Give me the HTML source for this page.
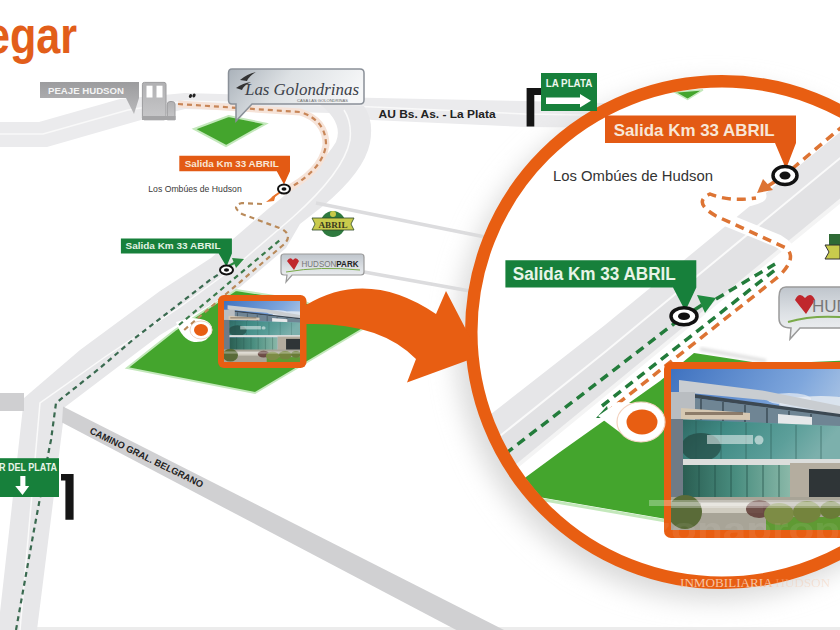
<!DOCTYPE html>
<html><head><meta charset="utf-8">
<style>
html,body{margin:0;padding:0;background:#fff;}
body{width:840px;height:630px;overflow:hidden;position:relative;}
svg{position:absolute;left:0;top:0;display:block;}
svg{font-family:"Liberation Sans",sans-serif;}
</style></head><body>
<svg width="840" height="630" viewBox="0 0 840 630">
<defs>
  <filter id="blur8" x="-20%" y="-20%" width="140%" height="140%"><feGaussianBlur stdDeviation="13"/></filter>
  <filter id="blur2" x="-20%" y="-20%" width="140%" height="140%"><feGaussianBlur stdDeviation="1.5"/></filter>
  <filter id="blur1" x="-10%" y="-10%" width="120%" height="120%"><feGaussianBlur stdDeviation="0.6"/></filter>
  <linearGradient id="sky" x1="0" y1="0" x2="1" y2="0.6">
    <stop offset="0" stop-color="#3f72c0"/><stop offset="0.6" stop-color="#7ea6dc"/><stop offset="1" stop-color="#c4d6ea"/>
  </linearGradient>
  <linearGradient id="glass" x1="0" y1="0" x2="1" y2="0.2">
    <stop offset="0" stop-color="#2b625c"/><stop offset="0.35" stop-color="#3f8a84"/><stop offset="0.75" stop-color="#5c9f9a"/><stop offset="1" stop-color="#7cb0ac"/>
  </linearGradient>
  <linearGradient id="glass2" x1="0" y1="0" x2="1" y2="0">
    <stop offset="0" stop-color="#2a5e52"/><stop offset="0.5" stop-color="#4a8e80"/><stop offset="1" stop-color="#8ab8a8"/>
  </linearGradient>
  <linearGradient id="signgray" x1="0" y1="0" x2="0" y2="1">
    <stop offset="0" stop-color="#bfc5cc"/><stop offset="0.5" stop-color="#dde1e5"/><stop offset="1" stop-color="#f3f4f5"/>
  </linearGradient>
  <linearGradient id="peaje" x1="0" y1="0" x2="0" y2="1">
    <stop offset="0" stop-color="#9c9c9e"/><stop offset="1" stop-color="#b9b9bb"/>
  </linearGradient>
  <clipPath id="ringclip"><circle cx="722" cy="332" r="245"/></clipPath>
  <clipPath id="bigphoto"><rect x="671" y="369" width="169" height="161"/></clipPath>
  <clipPath id="smallphoto"><rect x="224" y="301" width="76" height="61"/></clipPath>

  <g id="photo">
    <rect x="0" y="0" width="169" height="161" fill="url(#sky)"/>
    <ellipse cx="150" cy="36" rx="42" ry="9" fill="#e4eaf0" opacity="0.85"/>
    <ellipse cx="118" cy="30" rx="22" ry="6" fill="#e9eef4" opacity="0.7"/>
    <polygon points="8,11 94,22 169,37 169,46 94,31 8,23" fill="#c9cdd1"/>
    <polygon points="8,23 169,45 169,49 8,27" fill="#3c4852"/>
    <polygon points="8,27 169,48 169,58 8,50" fill="#6f8594"/>
    <g stroke="#2f3e48" stroke-width="1.2">
      <line x1="30" y1="30" x2="30" y2="51"/><line x1="52" y1="33" x2="52" y2="52"/><line x1="74" y1="36" x2="74" y2="53"/><line x1="96" y1="39" x2="96" y2="54"/><line x1="118" y1="42" x2="118" y2="55"/><line x1="140" y1="45" x2="140" y2="56"/>
    </g>
    <rect x="0" y="23" width="24" height="28" fill="#b9bdc1"/>
    <polygon points="10,39 79,44 79,51 10,50" fill="#d6c8b2"/>
    <rect x="14" y="43" width="58" height="3" fill="#5a4a3a" opacity="0.6"/>
    <polygon points="107,45 141,48 141,58 107,56" fill="#e6e8ea"/>
    <polygon points="0,50 169,57 169,91 0,91" fill="url(#glass)"/>
    <ellipse cx="30" cy="78" rx="20" ry="14" fill="#1f3f38" opacity="0.6"/>
    <g stroke="#285650" stroke-width="0.8" opacity="0.7">
      <line x1="25" y1="52" x2="25" y2="91"/><line x1="50" y1="53" x2="50" y2="91"/><line x1="75" y1="54" x2="75" y2="91"/><line x1="100" y1="55" x2="100" y2="91"/><line x1="125" y1="56" x2="125" y2="91"/><line x1="150" y1="57" x2="150" y2="91"/>
    </g>
    <rect x="36" y="66" width="46" height="9" fill="#eef4f4" opacity="0.55"/>
    <circle cx="88" cy="71" r="4.5" fill="#eef4f4" opacity="0.6"/>
    <rect x="11" y="90" width="158" height="6" fill="#dcdedc"/>
    <rect x="12" y="96" width="107" height="34" fill="url(#glass2)"/>
    <g stroke="#1f4a42" stroke-width="1" opacity="0.7">
      <line x1="28" y1="96" x2="28" y2="130"/><line x1="44" y1="96" x2="44" y2="130"/><line x1="60" y1="96" x2="60" y2="130"/><line x1="76" y1="96" x2="76" y2="130"/><line x1="92" y1="96" x2="92" y2="130"/><line x1="108" y1="96" x2="108" y2="130"/>
    </g>
    <rect x="119" y="94" width="50" height="38" fill="#b4ad9f"/>
    <rect x="138" y="100" width="31" height="32" fill="#2f3537"/>
    <rect x="0" y="50" width="12" height="82" fill="#6f7b86"/>
    <rect x="0" y="128" width="169" height="33" fill="#a8a497"/>
    <rect x="30" y="134" width="62" height="10" fill="#d0ccc0"/>
    <rect x="95" y="148" width="74" height="13" fill="#5f9a33"/>
    <ellipse cx="14" cy="143" rx="17" ry="17" fill="#5a6b38"/>
    <ellipse cx="88" cy="140" rx="13" ry="9" fill="#5f3a34" opacity="0.85"/>
    <ellipse cx="108" cy="145" rx="15" ry="11" fill="#7d8c45"/>
    <ellipse cx="136" cy="143" rx="14" ry="11" fill="#74843d"/>
    <ellipse cx="160" cy="141" rx="11" ry="9" fill="#6a7c37"/>
    <rect x="0" y="133" width="169" height="6" fill="#ffffff" opacity="0.3"/>
  </g>
</defs>

<!-- background -->
<rect x="0" y="0" width="840" height="630" fill="#ffffff"/>
<rect x="0" y="627" width="840" height="3" fill="#ececec"/>

<!-- ===== small map roads ===== -->
<!-- AU highway -->
<path d="M0,122 L39,122 L120,99 L185,93 L330,97 L525,101 L640,104 L640,128 L525,127 L372,120 L330,113 L185,109 L141,120 L47,147 L0,147 Z" fill="#ebebed"/>
<path d="M0,134 L43,134 L128,110 L185,101 L330,105 L525,114 L640,116" fill="none" stroke="#f9f9f9" stroke-width="1.5"/>
<!-- diagonal highway -->
<path d="M-2,630 L24,398 L80,350 L160,291 L211,258 L268,209 Q322,166 336,142 Q344,122 318,103 L364,106 Q374,120 370,143 Q364,172 323,206 L300,224 L286,248 L240,287 L160,335 L65,407 L37,630 Z" fill="#e7e7e9"/>
<path d="M20,630 L40,403 L105,357 L180,307 L236,266 L292,218 Q344,172 350,140 Q352,122 344,110" fill="none" stroke="#fafafa" stroke-width="1.5"/>
<!-- left horizontal & Camino Belgrano -->
<path d="M0,393 L24,393 L24,411 L0,411 Z" fill="#cfcfd1"/>
<path d="M63,406.5 L510,633 L462,633 L62,422.5 Z" fill="#d0d0d2"/>
<!-- minor roads -->
<line x1="316" y1="203" x2="490" y2="238" stroke="#dcdcde" stroke-width="3.5"/>
<line x1="364" y1="272" x2="470" y2="291" stroke="#dcdcde" stroke-width="3.5"/>

<!-- pale orange route band -->
<path d="M178,104 L300,112 Q326,120 326,145 Q322,172 282,192" fill="none" stroke="#f6e3d8" stroke-width="7" stroke-linejoin="round"/>

<!-- green lots -->
<polygon points="194,129 228.6,116 266,123.6 226,146" fill="#44a52d" stroke="#c3e8bb" stroke-width="2"/>
<polygon points="127,368 175,330 236,290 300,300 366,327 255,393" fill="#44a52d" stroke="#c3e8bb" stroke-width="2"/>
<!-- small marker white halo on road -->
<path d="M176,322 L190,318 Q214,318 212,332 Q208,343 194,342 Q182,340 176,322 Z" fill="#fff"/>

<!-- route dashes small -->
<path d="M178,104 L300,112 Q326,120 326,145 Q322,172 282,192" fill="none" stroke="#c88658" stroke-width="2.2" stroke-dasharray="5,4"/>
<path d="M283,190 L272,198" stroke="#e8732a" stroke-width="2"/>
<polygon points="266,202 276,194 274,201" fill="#e8732a"/>
<path d="M262,204 L242,203 Q230,206 242,214 L282,229 Q294,236 282,246 L183,331" fill="none" stroke="#b98a5a" stroke-width="2.2" stroke-dasharray="5,4"/>
<path d="M179,325 L280,240" fill="none" stroke="#3a7a4a" stroke-width="2.2" stroke-dasharray="5,4"/>
<path d="M16,630 L28.6,560 L34,530 L49,450 L51,440 L56,403 L100,368 L135,338 L210,280 L222,272" fill="none" stroke="#3a6a50" stroke-width="2.2" stroke-dasharray="5,4"/>
<path d="M225,268 L236,262" stroke="#2a8a40" stroke-width="2"/>
<polygon points="232,258 244,259 236,268" fill="#2a8a40"/>

<!-- ring shadow -->
<circle cx="713" cy="343" r="257" fill="#d9d9d9" filter="url(#blur8)"/>
<circle cx="722" cy="332" r="250.5" fill="#ffffff"/>

<!-- ===== ring interior ===== -->
<g clip-path="url(#ringclip)">
  <!-- highway -->
  <polygon points="400,485 605,325 850,124 850,191 400,560" fill="#e6e6e8"/>
  <polygon points="400,516 605,352 850,150 850,191 400,560" fill="#e2e2e4"/>
  <polyline points="400,516 605,352 850,150" fill="none" stroke="#fafafa" stroke-width="2"/>
  <line x1="400" y1="562" x2="850" y2="193" stroke="#f4f4f4" stroke-width="4"/>
  <!-- white halo where hook crosses -->
  <path d="M760,196 Q740,206 712,196 Q694,198 712,214 L778,241 Q800,254 780,266" fill="none" stroke="#ffffff" stroke-width="13" stroke-linecap="round" stroke-linejoin="round"/>
  <!-- big green -->
  <polygon points="470,518 560,452 660,381 694,353 765,364 860,360 860,532 666,519 527,495 505,470" fill="#44a52d"/>
  <polyline points="527,497 666,521" fill="none" stroke="#c3e8bb" stroke-width="3"/>
  <path d="M700,349 L766,361" fill="none" stroke="#e2e2e2" stroke-width="4" filter="url(#blur2)"/>
  <!-- dashed routes -->
  <path d="M470,481 L684,316" fill="none" stroke="#237c3b" stroke-width="3.5" stroke-dasharray="9,6"/>
  <path d="M688,314 L702,305" stroke="#237c3b" stroke-width="3.5"/>
  <polygon points="697,295 716,298 705,313" fill="#1f8a3e"/>
  <path d="M716,299 L775,264" fill="none" stroke="#237c3b" stroke-width="3.5" stroke-dasharray="9,6"/>
  <path d="M602,406 L775,270" fill="none" stroke="#237c3b" stroke-width="3.5" stroke-dasharray="9,6"/>
  <path d="M606,413 L778,277 Q798,258 786,248 L716,216 Q692,202 710,194 Q730,202 756,198" fill="none" stroke="#dd7434" stroke-width="3.5" stroke-dasharray="9,6"/>
  <polygon points="596,418 607,406 610,418" fill="#237c3b"/>
  <path d="M785,175 L768,186" stroke="#dd7434" stroke-width="3.5"/>
  <polygon points="757,193 763,179 773,190" fill="#dd7434"/>
  <path d="M792,169 L850,120" fill="none" stroke="#dd7434" stroke-width="3.5" stroke-dasharray="9,6"/>
  <!-- small green triangle near top -->
  <polygon points="674.5,92 703,89.8 687.6,99.3" fill="#44a52d" stroke="#c3e8bb" stroke-width="1.5"/>
</g>

<!-- ring -->
<circle cx="722" cy="332" r="250.75" fill="none" stroke="#e85e12" stroke-width="12.5"/>

<!-- orange arrow -->
<path d="M306,305 Q368,268 436,314 L446,291 L474,345 L474,358 L407,382.5 L416,359 Q380,322 306,324 Z" fill="#e85e12"/>

<!-- small photo -->
<rect x="218" y="295" width="88.5" height="73" rx="6" fill="#e85e12"/>
<g clip-path="url(#smallphoto)"><use href="#photo" transform="translate(224,301) scale(0.4497,0.3789)"/></g>

<!-- big photo -->
<rect x="664" y="362" width="190" height="176" rx="7" fill="#e85e12"/>
<g clip-path="url(#bigphoto)"><use href="#photo" transform="translate(671,369)"/></g>

<!-- small orange marker -->
<ellipse cx="201" cy="330" rx="11" ry="9" fill="#fff" stroke="#f1d6c6" stroke-width="1"/>
<ellipse cx="201" cy="330" rx="7" ry="6" fill="#e85e12"/>

<!-- big orange marker -->
<path d="M598,416 L618,402 L640,404 L650,440 L630,440 Z" fill="#fff"/>
<ellipse cx="641" cy="422" rx="24" ry="20" fill="#fff" stroke="#f3d3c0" stroke-width="1.2"/>
<ellipse cx="642" cy="422" rx="15.5" ry="12.5" fill="#e85e12"/>

<!-- ===== signs ===== -->
<!-- title -->
<text x="0" y="0" font-size="52" font-weight="bold" fill="#e25e1a" transform="translate(-14,52.5) scale(0.83,1)">egar</text>

<!-- Peaje Hudson -->
<polygon points="40,82 139,82 139,98 134,114 126,98 40,98" fill="url(#peaje)"/>
<text x="48" y="94" font-size="9.5" font-weight="bold" fill="#f4f4f4" textLength="76" lengthAdjust="spacingAndGlyphs">PEAJE HUDSON</text>
<!-- toll booth -->
<defs><linearGradient id="booth" x1="0" y1="0" x2="0" y2="1"><stop offset="0" stop-color="#b0b0b2"/><stop offset="1" stop-color="#c8c8ca"/></linearGradient></defs>
<rect x="142.4" y="82.4" width="23.6" height="37.4" rx="2" fill="url(#booth)" stroke="#9c9c9e" stroke-width="1"/>
<rect x="146.5" y="85.7" width="6" height="11.8" fill="#fff"/>
<rect x="156.5" y="85.7" width="6" height="11.8" fill="#fff"/>
<path d="M167.3,119.8 L167.3,104 Q167.3,101.4 171,101.4 Q175,101.4 175,104 L175,119.8 Z" fill="url(#booth)" stroke="#9c9c9e" stroke-width="1"/>
<rect x="142" y="116" width="33.5" height="4" fill="#a4a4a6"/>
<ellipse cx="190.5" cy="96" rx="1.5" ry="2" fill="#222" transform="rotate(30 190.5 96)"/>
<ellipse cx="194" cy="95.5" rx="1.5" ry="2" fill="#222" transform="rotate(30 194 95.5)"/>

<!-- Las Golondrinas -->
<defs><linearGradient id="golg" x1="0" y1="0" x2="1" y2="0.3"><stop offset="0" stop-color="#aab2ba"/><stop offset="0.45" stop-color="#dde1e4"/><stop offset="1" stop-color="#f6f7f8"/></linearGradient></defs><path d="M232,69 L360,69 Q364,69 364,73 L364,100 Q364,104 360,104 L252,104 L236,121 L236,104 L232,104 Q228.5,104 228.5,100 L228.5,73 Q228.5,69 232,69 Z" fill="url(#golg)" stroke="#8a9098" stroke-width="1.5"/>
<text x="245" y="95" font-family="Liberation Serif" font-style="italic" font-size="16" fill="#3c424a" textLength="114" lengthAdjust="spacingAndGlyphs">Las Golondrinas</text>
<text x="297" y="101.5" font-size="3.5" fill="#666" textLength="51" lengthAdjust="spacingAndGlyphs">CASA LAS GOLONDRINAS</text>
<path d="M240,80 q7,-6 16,-8 q-7,4 -9,9 Z M236,88 q7,-5 15,-6 q-7,3 -9,8 Z" fill="#333"/>

<!-- AU Bs As label -->
<text x="378.6" y="118" font-size="11.8" font-weight="bold" fill="#222" textLength="117" lengthAdjust="spacingAndGlyphs">AU Bs. As. - La Plata</text>

<!-- La Plata sign -->
<path d="M526.6,88 L541,88 L541,95 L534.3,95 L534.3,126.6 L526.6,126.6 Z" fill="#151515"/>
<rect x="541" y="73" width="56" height="38" fill="#17803b"/>
<text x="545.7" y="87.4" font-size="10.5" font-weight="bold" fill="#eef7ee" textLength="46.6" lengthAdjust="spacingAndGlyphs">LA PLATA</text>
<path d="M546,97.5 L580,97.5 L580,94 L591,100.8 L580,107.5 L580,104 L546,104 Z" fill="#fff"/>

<!-- Salida orange small -->
<polygon points="179.3,155.7 290,155.7 290,171.2 284,184.4 276.8,171.2 179.3,171.2" fill="#e35a14"/>
<text x="184.7" y="167.4" font-size="9.6" font-weight="bold" fill="#f8e6d6" textLength="94" lengthAdjust="spacingAndGlyphs">Salida Km 33 ABRIL</text>
<text x="148.3" y="192" font-size="9" fill="#3a3a3a" textLength="93.4" lengthAdjust="spacingAndGlyphs">Los Ombúes de Hudson</text>

<!-- marker small orange -->
<ellipse cx="284" cy="189" rx="6" ry="4.5" fill="#fff" stroke="#111" stroke-width="2"/>
<ellipse cx="284" cy="189" rx="2.5" ry="1.8" fill="#111"/>

<!-- Salida green small -->
<polygon points="120.9,238.5 231.9,238.5 231.9,253.5 226.5,266.7 218.7,253.5 120.9,253.5" fill="#17803b"/>
<text x="125.5" y="249.4" font-size="9.2" font-weight="bold" fill="#e2f2e2" textLength="95" lengthAdjust="spacingAndGlyphs">Salida Km 33 ABRIL</text>
<ellipse cx="226.5" cy="270" rx="6.5" ry="4.5" fill="#fff" stroke="#111" stroke-width="2"/>
<ellipse cx="226.5" cy="270" rx="2.6" ry="1.8" fill="#111"/>

<!-- ABRIL logo -->
<ellipse cx="333" cy="224" rx="12.5" ry="13" fill="#2f7a3f"/>
<circle cx="333" cy="214" r="3" fill="#c7c94a"/>
<path d="M312,218 L354,218 L351,224 L354,230 L312,230 L315,224 Z" fill="#c9cb4c" stroke="#2f4a2a" stroke-width="0.8"/>
<text x="318.5" y="228" font-size="8.5" font-family="Liberation Serif" font-weight="bold" fill="#3a3a20" textLength="29" lengthAdjust="spacingAndGlyphs">ABRIL</text>

<!-- Hudson Park sign -->
<path d="M284,254 L361,254 Q364,254 364,257 L364,272 Q364,275 361,275 L292,275 L286,282 L287,275 L284,275 Q281,275 281,272 L281,257 Q281,254 284,254 Z" fill="url(#signgray)" stroke="#999" stroke-width="1.2"/>
<path d="M287,261 Q290,256 293,260 Q296,256 299,261 L294,270 Z" fill="#c0272d"/>
<text x="301.5" y="267" font-size="9" fill="#777" textLength="57" lengthAdjust="spacingAndGlyphs">HUDSON<tspan font-weight="bold" fill="#222">PARK</tspan></text>
<path d="M286,272 Q320,266 360,270" stroke="#7aaa4a" stroke-width="1" fill="none"/>

<!-- Mar del plata sign -->
<rect x="0" y="458.2" width="59" height="38.8" fill="#17803b"/>
<text x="-1" y="471" font-size="10.5" font-weight="bold" fill="#e8f4e8" textLength="58" lengthAdjust="spacingAndGlyphs">R DEL PLATA</text>
<path d="M20.3,476 L25.4,476 L25.4,486 L29.2,486 L22.5,495 L15.2,486 L20.3,486 Z" fill="#fff"/>
<path d="M61,474 L73.6,474 L73.6,519.8 L65.4,519.8 L65.4,480.5 L61,480.5 Z" fill="#151515"/>

<!-- Camino label -->
<text x="0" y="0" font-size="9.5" font-weight="bold" fill="#222" transform="translate(89,433) rotate(26)" textLength="125" lengthAdjust="spacingAndGlyphs">CAMINO GRAL. BELGRANO</text>

<!-- ===== ring signs ===== -->
<polygon points="605,115.5 796,115.5 796,143 786,169 775,143 605,143" fill="#e35a14"/>
<text x="613.7" y="135.5" font-size="17" font-weight="bold" fill="#f8e6d6" textLength="161" lengthAdjust="spacingAndGlyphs">Salida Km 33 ABRIL</text>
<text x="553" y="180.5" font-size="15" fill="#333" textLength="160" lengthAdjust="spacingAndGlyphs">Los Ombúes de Hudson</text>
<ellipse cx="785" cy="175.5" rx="12" ry="9" fill="#fff" stroke="#111" stroke-width="3.5"/>
<ellipse cx="785" cy="175.5" rx="5.5" ry="4" fill="#111"/>

<polygon points="505.4,260.2 696.3,260.2 696.3,287.6 685.3,311 673,287.6 505.4,287.6" fill="#17803b"/>
<text x="512.8" y="280" font-size="17.5" font-weight="bold" fill="#e8f4e8" textLength="163" lengthAdjust="spacingAndGlyphs">Salida Km 33 ABRIL</text>
<ellipse cx="684" cy="316.3" rx="13" ry="8.5" fill="#fff" stroke="#111" stroke-width="3.5"/>
<ellipse cx="684" cy="316.3" rx="6" ry="3.8" fill="#111"/>

<!-- Hudson Park big (partial) -->
<path d="M786,287 L850,287 L850,328 L800,328 L790,339 L791,328 Q779,328 779,318 L779,297 Q779,287 786,287 Z" fill="url(#signgray)" stroke="#9a9a9a" stroke-width="1.5"/>
<path d="M795,300 Q799,291 805,298 Q811,291 815,300 L806,314 Z" fill="#c0272d"/>
<text x="812" y="312" font-size="17" fill="#777">HUD</text>
<path d="M788,322 Q815,314 850,318" stroke="#7aaa4a" stroke-width="2" fill="none"/>
<!-- ABRIL big partial -->
<path d="M829,234 L840,234 L840,246 L829,246 Z" fill="#2f6a35"/><path d="M825,245 L840,245 L840,259 L825,259 L829,252 Z" fill="#c9cb4c" stroke="#333" stroke-width="1"/>

<!-- watermark -->
<rect x="649" y="500" width="191" height="6" fill="#ffffff" opacity="0.3"/>
<text x="650" y="541" font-size="34" font-weight="bold" fill="#ffffff" opacity="0.07" textLength="190" lengthAdjust="spacingAndGlyphs">zonaprop</text>
<text x="680" y="587" font-size="13" font-family="Liberation Serif" fill="#f7c3a2" textLength="150" lengthAdjust="spacingAndGlyphs">INMOBILIARIA <tspan opacity="0.35">HUDSON</tspan></text>
</svg>
</body></html>
